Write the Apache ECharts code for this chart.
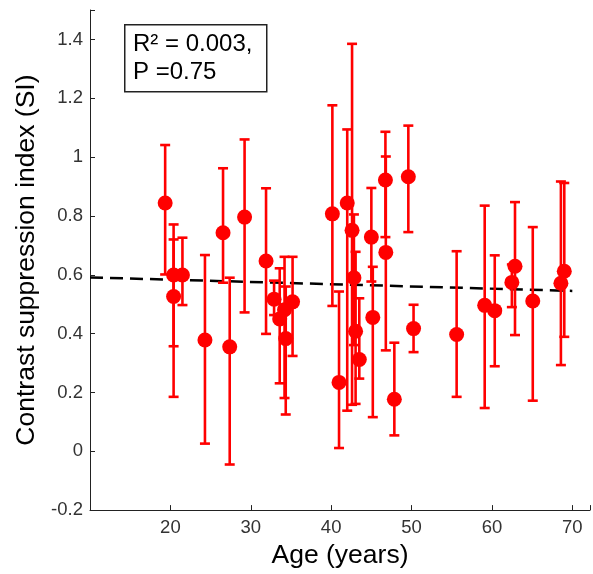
<!DOCTYPE html>
<html>
<head>
<meta charset="utf-8">
<script src="https://cdn.jsdelivr.net/npm/echarts@6/dist/echarts.min.js"></script>
<style>
html,body{margin:0;padding:0;background:#fff;}
#chart{width:593px;height:574px;}
</style>
</head>
<body>
<div id="chart"></div>
<script>
// Data
const ages   = [19.35, 20.4, 20.4, 21.5, 24.3, 26.55, 27.38, 29.23, 31.9, 32.9, 33.6, 34.2, 34.35, 35.2,
                40.15, 40.98, 42.0, 42.6, 42.83, 43.04, 43.5, 45.0, 45.18, 46.75, 46.8, 47.86, 49.6, 50.25,
                55.61, 59.1, 60.35, 62.48, 62.87, 65.08, 68.58, 69.0];
const siValues = [0.844, 0.599, 0.526, 0.599, 0.378, 0.743, 0.355, 0.796, 0.647, 0.517, 0.450, 0.481, 0.383, 0.508,
                0.807, 0.234, 0.844, 0.751, 0.590, 0.408, 0.312, 0.728, 0.455, 0.922, 0.676, 0.177, 0.933, 0.417,
                0.397, 0.496, 0.478, 0.574, 0.629, 0.511, 0.571, 0.612];
const ciLow  = [0.601, 0.357, 0.185, 0.497, 0.026, 0.573, -0.045, 0.472, 0.399, 0.463, 0.231, 0.181, 0.125, 0.324,
                0.494, 0.011, 0.138, 0.158, 0.361, 0.161, 0.247, 0.577, 0.116, 0.728, 0.343, 0.054, 0.745, 0.337,
                0.185, 0.147, 0.289, 0.490, 0.395, 0.172, 0.293, 0.389];
const ciHigh = [1.041, 0.771, 0.720, 0.726, 0.667, 0.962, 0.590, 1.060, 0.894, 0.580, 0.622, 0.661, 0.560, 0.661,
                1.176, 0.543, 1.094, 1.385, 0.805, 0.678, 0.520, 0.895, 0.627, 1.086, 1.002, 0.369, 1.107, 0.498,
                0.680, 0.835, 0.666, 0.635, 0.847, 0.762, 0.917, 0.912];
// Regression fit line endpoints
const fitAges = [10, 70];
const fitSI   = [0.591, 0.545];
// Annotation text
const statLines = ['R\u00B2 = 0.003,', 'P =0.75'];

const chart = echarts.init(document.getElementById('chart'), null, {renderer: 'canvas'});

const errData = ages.map((a, i) => [a, ciLow[i], ciHigh[i]]);
const ptData = ages.map((a, i) => [a, siValues[i]]);
const fitData = fitAges.map((a, i) => [a, fitSI[i]]);

const RED = '#ff0000';
const FONT = '"Liberation Sans", Arial, sans-serif';

const option = {
  animation: false,
  backgroundColor: '#ffffff',
  grid: {left: 90, top: 10, right: 0, bottom: 60.3, containLabel: false},
  xAxis: {
    type: 'value', min: 10, max: 72.2, interval: 10,
    name: 'Age (years)', nameLocation: 'middle', nameGap: 23,
    nameTextStyle: {fontFamily: FONT, fontSize: 26.5, color: '#000'},
    axisLine: {show: true, onZero: false, lineStyle: {color: '#222', width: 1}},
    axisTick: {show: true, inside: true, length: 5, lineStyle: {color: '#222'}},
    axisLabel: {
      margin: 8, color: '#333', fontSize: 18.5, fontFamily: FONT,
      formatter: v => (Math.abs(v - 10) < 1e-6 || v > 70.5) ? '' : String(Math.round(v))
    },
    splitLine: {show: false}
  },
  yAxis: {
    type: 'value', min: -0.2, max: 1.5, interval: 0.2,
    name: 'Contrast suppression index (SI)', nameLocation: 'middle', nameGap: 47,
    nameTextStyle: {fontFamily: FONT, fontSize: 26.5, color: '#000'},
    axisLine: {show: true, onZero: false, lineStyle: {color: '#222', width: 1}},
    axisTick: {show: true, inside: true, length: 5, lineStyle: {color: '#222'}},
    axisLabel: {
      margin: 7, color: '#333', fontSize: 18.5, fontFamily: FONT,
      formatter: v => v > 1.45 ? '' : String(+(+v).toFixed(1))
    },
    splitLine: {show: false}
  },
  graphic: [
    {type: 'rect', left: 124, top: 24, shape: {width: 142, height: 67},
     style: {fill: '#fff', stroke: '#222', lineWidth: 1.5}, z: 100},
    {type: 'text', x: 133, y: 44, z: 101,
     style: {text: statLines[0], fill: '#000', font: '24px ' + FONT, verticalAlign: 'middle'}},
    {type: 'text', x: 133, y: 72, z: 101,
     style: {text: statLines[1], fill: '#000', font: '24px ' + FONT, verticalAlign: 'middle'}}
  ],
  series: [
    {
      type: 'line', data: fitData, symbol: 'none', z: 2,
      lineStyle: {color: '#000', width: 2.5, type: [13, 7]}
    },
    {
      type: 'custom', data: errData, z: 3,
      renderItem: function (params, api) {
        const x = api.value(0);
        const lo = api.coord([x, api.value(1)]);
        const hi = api.coord([x, api.value(2)]);
        const hw = 5;
        const st = {stroke: RED, lineWidth: 2.6, fill: null};
        return {
          type: 'group',
          children: [
            {type: 'line', shape: {x1: lo[0], y1: lo[1], x2: hi[0], y2: hi[1]}, style: st},
            {type: 'line', shape: {x1: lo[0] - hw, y1: lo[1], x2: lo[0] + hw, y2: lo[1]}, style: st},
            {type: 'line', shape: {x1: hi[0] - hw, y1: hi[1], x2: hi[0] + hw, y2: hi[1]}, style: st}
          ]
        };
      }
    },
    {
      type: 'scatter', data: ptData, symbol: 'circle', symbolSize: 15, z: 4,
      itemStyle: {color: RED, opacity: 1}
    }
  ]
};
chart.setOption(option);
</script>
</body>
</html>
